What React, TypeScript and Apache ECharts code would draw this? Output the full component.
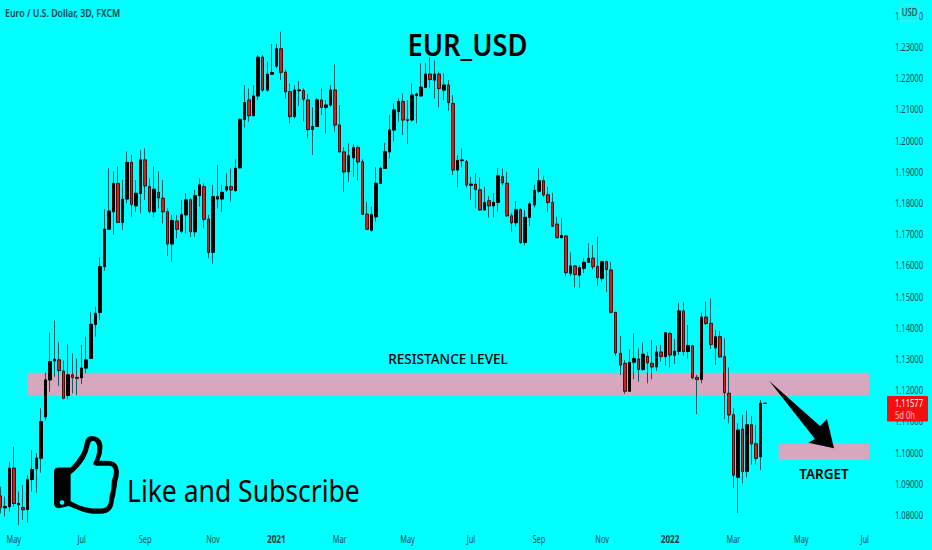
import React, { useEffect, useRef } from "react";
import * as echarts from "echarts";

const opens = [
  1.0861,1.0823,1.0827,1.0950,1.0833,1.0824,1.0818,1.0914,1.0948,1.0982,
  1.1115,1.1233,1.1294,1.1297,1.1261,1.1183,1.1249,1.1241,1.1240,1.1271,
  1.1302,1.1411,1.1449,1.1596,1.1716,1.1772,1.1863,1.1738,1.1813,1.1930,
  1.1791,1.1831,1.1938,1.1852,1.1772,1.1834,1.1815,1.1772,1.1669,1.1742,
  1.1710,1.1762,1.1810,1.1708,1.1824,1.1852,1.1748,1.1642,1.1813,1.1813,
  1.1842,1.1852,1.1840,1.1913,1.2068,1.2130,1.2080,1.2143,1.2267,1.2162,
  1.2213,1.2239,1.2294,1.2219,1.2157,1.2077,1.2160,1.2160,1.2130,1.2036,
  1.2045,1.2130,1.2107,1.2114,1.2162,1.2050,1.1964,1.1900,1.1945,1.1978,
  1.1932,1.1764,1.1713,1.1756,1.1863,1.1911,1.1964,1.2034,1.2093,1.2125,
  1.2068,1.2066,1.2145,1.2143,1.2171,1.2213,1.2194,1.2213,1.2162,1.2178,
  1.2119,1.1906,1.1936,1.1932,1.1857,1.1860,1.1842,1.1778,1.1807,1.1791,
  1.1802,1.1884,1.1863,1.1759,1.1737,1.1778,1.1674,1.1754,1.1794,1.1838,
  1.1871,1.1826,1.1802,1.1732,1.1689,1.1694,1.1575,1.1598,1.1569,1.1591,
  1.1610,1.1623,1.1596,1.1559,1.1612,1.1585,1.1449,1.1318,1.1286,1.1197,
  1.1290,1.1300,1.1267,1.1308,1.1286,1.1275,1.1322,1.1308,1.1382,1.1312,
  1.1325,1.1454,1.1324,1.1342,1.1241,1.1235,1.1434,1.1414,1.1336,1.1371,
  1.1307,1.1190,1.1121,1.0921,1.1075,1.0940,1.1089,1.1028,1.0987,1.1158,
];
const highs = [
  1.0891,1.0859,1.0971,1.1019,1.0875,1.0896,1.0928,1.1008,1.0998,1.1142,
  1.1256,1.1385,1.1423,1.1354,1.1295,1.1347,1.1318,1.1302,1.1345,1.1372,
  1.1450,1.1468,1.1626,1.1780,1.1911,1.1901,1.1917,1.1874,1.1965,1.1954,
  1.1874,1.1970,1.1975,1.1879,1.1917,1.1901,1.1874,1.1783,1.1762,1.1762,
  1.1810,1.1831,1.1815,1.1842,1.1879,1.1863,1.1762,1.1858,1.1922,1.1858,
  1.1895,1.1911,1.1940,1.2071,1.2178,1.2167,1.2178,1.2274,1.2274,1.2253,
  1.2310,1.2310,1.2349,1.2227,1.2183,1.2178,1.2191,1.2167,1.2149,1.2107,
  1.2136,1.2167,1.2130,1.2178,1.2244,1.2114,1.1980,1.1991,1.1988,1.1986,
  1.1940,1.1804,1.1788,1.1914,1.1916,1.1993,1.2082,1.2119,1.2135,1.2151,
  1.2130,1.2183,1.2154,1.2248,1.2248,1.2267,1.2256,1.2221,1.2216,1.2194,
  1.2146,1.1954,1.1975,1.1938,1.1884,1.1895,1.1882,1.1852,1.1823,1.1831,
  1.1911,1.1911,1.1900,1.1767,1.1806,1.1783,1.1778,1.1804,1.1858,1.1911,
  1.1887,1.1852,1.1833,1.1756,1.1751,1.1697,1.1642,1.1601,1.1601,1.1623,
  1.1671,1.1665,1.1692,1.1615,1.1615,1.1610,1.1452,1.1374,1.1297,1.1331,
  1.1382,1.1334,1.1353,1.1323,1.1361,1.1343,1.1345,1.1387,1.1387,1.1364,
  1.1481,1.1482,1.1409,1.1345,1.1249,1.1449,1.1484,1.1494,1.1393,1.1390,
  1.1366,1.1273,1.1142,1.1094,1.1121,1.1134,1.1117,1.1089,1.1169,1.1158,
];
const lows = [
  1.0805,1.0795,1.0811,1.0827,1.0768,1.0784,1.0776,1.0875,1.0872,1.0936,
  1.1102,1.1195,1.1243,1.1214,1.1171,1.1171,1.1190,1.1185,1.1220,1.1254,
  1.1302,1.1372,1.1425,1.1583,1.1714,1.1698,1.1735,1.1714,1.1799,1.1756,
  1.1772,1.1767,1.1810,1.1767,1.1756,1.1783,1.1735,1.1630,1.1612,1.1687,
  1.1703,1.1703,1.1690,1.1692,1.1788,1.1719,1.1623,1.1605,1.1783,1.1772,
  1.1836,1.1804,1.1836,1.1911,1.2042,1.2061,1.2077,1.2130,1.2157,1.2157,
  1.2210,1.2232,1.2194,1.2135,1.2055,1.2071,1.2111,1.2061,1.2007,1.1954,
  1.2045,1.2082,1.2023,1.2109,1.2029,1.1964,1.1836,1.1868,1.1884,1.1872,
  1.1762,1.1713,1.1708,1.1740,1.1863,1.1911,1.1943,1.1997,1.2061,1.2018,
  1.1989,1.2061,1.2055,1.2141,1.2168,1.2168,1.2135,1.2107,1.2130,1.2096,
  1.1890,1.1850,1.1914,1.1850,1.1810,1.1783,1.1775,1.1775,1.1753,1.1754,
  1.1772,1.1858,1.1756,1.1708,1.1724,1.1669,1.1665,1.1726,1.1786,1.1831,
  1.1820,1.1772,1.1724,1.1687,1.1687,1.1564,1.1566,1.1530,1.1527,1.1575,
  1.1609,1.1587,1.1535,1.1548,1.1514,1.1446,1.1310,1.1249,1.1188,1.1195,
  1.1235,1.1227,1.1262,1.1222,1.1235,1.1262,1.1291,1.1278,1.1273,1.1284,
  1.1313,1.1310,1.1302,1.1235,1.1123,1.1222,1.1409,1.1332,1.1281,1.1305,
  1.1107,1.1094,1.0886,1.0807,1.0901,1.0921,1.0962,1.0962,1.0944,1.1158,
];
const closes = [
  1.0825,1.0827,1.0950,1.0837,1.0837,1.0817,1.0914,1.0946,1.0982,1.1099,
  1.1233,1.1292,1.1299,1.1263,1.1174,1.1249,1.1241,1.1238,1.1271,1.1297,
  1.1411,1.1446,1.1596,1.1716,1.1774,1.1863,1.1738,1.1812,1.1930,1.1796,
  1.1831,1.1938,1.1855,1.1774,1.1844,1.1817,1.1772,1.1669,1.1744,1.1716,
  1.1762,1.1810,1.1708,1.1823,1.1858,1.1748,1.1642,1.1820,1.1820,1.1834,
  1.1852,1.1842,1.1911,1.2068,1.2122,1.2080,1.2143,1.2267,1.2162,1.2213,
  1.2218,1.2294,1.2219,1.2157,1.2077,1.2162,1.2162,1.2133,1.2036,1.2045,
  1.2130,1.2107,1.2114,1.2162,1.2050,1.1964,1.1900,1.1951,1.1978,1.1932,
  1.1764,1.1716,1.1762,1.1863,1.1911,1.1964,1.2034,1.2098,1.2125,1.2066,
  1.2065,1.2146,1.2149,1.2171,1.2213,1.2196,1.2213,1.2167,1.2178,1.2122,
  1.1906,1.1936,1.1938,1.1858,1.1860,1.1844,1.1778,1.1801,1.1791,1.1802,
  1.1887,1.1865,1.1759,1.1737,1.1778,1.1674,1.1754,1.1797,1.1840,1.1871,
  1.1826,1.1802,1.1726,1.1689,1.1696,1.1577,1.1598,1.1571,1.1593,1.1610,
  1.1623,1.1596,1.1561,1.1612,1.1587,1.1450,1.1320,1.1281,1.1197,1.1289,
  1.1301,1.1267,1.1315,1.1288,1.1275,1.1322,1.1308,1.1384,1.1313,1.1325,
  1.1454,1.1324,1.1343,1.1240,1.1234,1.1434,1.1414,1.1347,1.1371,1.1307,
  1.1192,1.1121,1.0928,1.1072,1.0940,1.1089,1.1028,1.0982,1.1158,1.1158,
];

// One slot per three-day bar, including the empty future bars on the right.
const barCount = 196;
const tickIndexes = [3, 18, 32, 47, 61, 75, 90, 104, 119, 133, 148, 162, 177, 191];
const tickLabels = ["May", "Jul", "Sep", "Nov", "2021", "Mar", "May", "Jul", "Sep", "Nov", "2022", "Mar", "May", "Jul"];
const yearLabels = ["2021", "2022"];
const priceTicks = [
  1.24, 1.23, 1.22, 1.21, 1.2, 1.19, 1.18, 1.17, 1.16, 1.15, 1.14, 1.13, 1.12, 1.11, 1.1, 1.09, 1.08,
];

const resistanceZone = { from: "6", to: "192", top: 1.1256, bottom: 1.1182 };
const targetZone = { from: "172", to: "192", top: 1.1029, bottom: 1.0976 };

const priceMin = 1.08;
const priceMax = 1.24;
const priceStep = 0.01;

const CYAN = "#00ffff";
const FONT = '"Noto Sans", sans-serif';
const AXIS_INK = "#174a52";

const thumbOuterD =
  "M42 142 Q42 128 56 128 L92 128 Q112 108 125 85 Q132 70 135 50 Q140 33 156 33 Q182 34 187 58 Q190 85 178 107 L212 108 Q236 112 237 140 Q237 158 232 170 Q231 185 228 195 Q227 212 222 225 Q220 262 190 266 Q150 270 115 255 L86 243 L58 250 Q42 250 42 235 Z";
const thumbInnerD =
  "M92 148 Q118 128 135 100 Q145 80 149 60 Q152 47 160 47 Q172 50 172 70 Q172 95 160 114 Q160 122 170 122 L208 122 Q222 124 222 138 Q222 155 216 165 L214 195 Q208 210 208 225 Q205 248 190 250 Q150 254 115 240 L92 229 Z";

function note(text: string, x: number, y: number, scaleX: number, font: string, fill = "#000000", align = "center", z = 10) {
  return {
    type: "text",
    x,
    y,
    z,
    scaleX,
    style: { text, fill, font, textAlign: align, textVerticalAlign: "middle" },
  };
}

export default function App() {
  const ref = useRef<HTMLDivElement>(null);

  useEffect(() => {
    if (!ref.current) return;
    echarts.graphic.registerShape("thumbOuter", echarts.graphic.extendPath(thumbOuterD, {}));
    echarts.graphic.registerShape("thumbInner", echarts.graphic.extendPath(thumbInnerD, {}));
    const chart = echarts.init(ref.current, undefined, { renderer: "svg" });

    const categories = Array.from({ length: barCount }, (_, i) => String(i));
    const wickData = opens.map((o, i) => [o, closes[i], lows[i], highs[i]]);
    const bodyData = opens.map((o, i) => {
      const c = closes[i];
      return [o, c, Math.min(o, c), Math.max(o, c)];
    });

    chart.setOption({
      animation: false,
      backgroundColor: CYAN,
      grid: { left: -2, width: 887, top: 15.8, height: 499.2, containLabel: false, outerBoundsMode: "none" },
      tooltip: { show: false },
      xAxis: {
        type: "category",
        data: categories,
        boundaryGap: true,
        axisLine: { show: false },
        axisTick: { show: false },
        splitLine: { show: false },
        axisLabel: { show: false },
      },
      yAxis: {
        type: "value",
        position: "right",
        min: priceMin,
        max: priceMax,
        interval: priceStep,
        axisLine: { show: false },
        axisTick: { show: false },
        splitLine: { show: false },
        axisLabel: { show: false },
      },
      series: [
        {
          type: "candlestick",
          z: 2,
          clip: false,
          silent: true,
          barWidth: 3,
          data: wickData,
          itemStyle: {
            color: "#0a5c62",
            color0: "#0a5c62",
            borderColor: "#0a5c62",
            borderColor0: "#0a5c62",
            borderWidth: 1,
          },
          markArea: {
            silent: true,
            z: 1,
            itemStyle: { color: "#d6a7be", opacity: 1 },
            data: [
              [
                { xAxis: resistanceZone.from, yAxis: resistanceZone.top },
                { xAxis: resistanceZone.to, yAxis: resistanceZone.bottom },
              ],
              [
                { xAxis: targetZone.from, yAxis: targetZone.top },
                { xAxis: targetZone.to, yAxis: targetZone.bottom },
              ],
            ],
          },
        },
        {
          type: "candlestick",
          z: 3,
          clip: false,
          silent: true,
          barWidth: 3,
          data: bodyData,
          // ECharts: color is for close > open. Rises are black, falls are red.
          itemStyle: {
            color: "#000000",
            color0: "#d0201c",
            borderColor: "#000000",
            borderColor0: "#4a0d0d",
            borderWidth: 1,
          },
        },
      ],
    });

    // Narrow tick labels: placed through the chart's own scales, squeezed as in the reference.
    const xLabels = tickIndexes.map((idx, at) => {
      const t = tickLabels[at];
      const px = chart.convertToPixel({ xAxisIndex: 0 }, String(idx)) as number;
      const isYear = yearLabels.includes(t);
      return note(
        t,
        px,
        539,
        isYear ? 0.74 : 0.67,
        `${isYear ? "700" : "400"} 11px ${FONT}`,
        isYear ? "#123a42" : AXIS_INK,
      );
    });
    const yLabels = priceTicks.map((v) => {
      const py = chart.convertToPixel({ yAxisIndex: 0 }, v) as number;
      return note(v.toFixed(5), 895, py, 0.69, `400 11px ${FONT}`, AXIS_INK, "left");
    });

    chart.setOption({
      graphic: [
        ...xLabels,
        ...yLabels,
        note("Euro / U.S. Dollar, 3D, FXCM", 5, 13, 0.84, `600 10.5px ${FONT}`, "#0e4450", "left"),
        note("EUR_USD", 467.5, 44, 0.88, `600 31px ${FONT}`),
        note("RESISTANCE LEVEL", 448, 358.5, 0.905, `500 15px ${FONT}`),
        note("TARGET", 824, 473, 0.9, `600 15px ${FONT}`),
        note("Like and Subscribe", 127, 490, 0.855, `400 31px ${FONT}`, "#000000", "left"),
        {
          type: "polygon",
          z: 10,
          shape: {
            points: [
              [769.3, 381],
              [820, 426],
              [827, 419],
              [834, 448.3],
              [808.3, 442.7],
              [815, 439],
            ],
          },
          style: { fill: "#000000" },
        },
        { type: "thumbOuter", x: 40, y: 425, scaleX: 1 / 3, scaleY: 1 / 3, z: 10, style: { fill: "#000000" } },
        { type: "thumbInner", x: 40, y: 425, scaleX: 1 / 3, scaleY: 1 / 3, z: 11, style: { fill: CYAN } },
        { type: "circle", z: 11, shape: { cx: 62, cy: 502.5, r: 2.3 }, style: { fill: CYAN } },
        {
          type: "rect",
          z: 12,
          shape: { x: 900, y: 5, width: 19, height: 16, r: 4 },
          style: { fill: "#12f4f4", stroke: "#5ce8e8", lineWidth: 1 },
        },
        note("USD", 909.5, 12.5, 0.78, `500 10px ${FONT}`, AXIS_INK, "center", 13),
        {
          type: "rect",
          z: 12,
          shape: { x: 887, y: 396, width: 41, height: 25.5, r: 1 },
          style: { fill: "#f70d0d" },
        },
        note("1.11577", 895, 403, 0.69, `400 11px ${FONT}`, "#ffffff", "left", 13),
        note("5d 0h", 895, 415, 0.69, `400 11px ${FONT}`, "#ffc2c2", "left", 13),
      ],
    });

    return () => chart.dispose();
  }, []);

  return (
    <div style={{ position: "fixed", left: 0, top: 0, width: 932, height: 550, overflow: "hidden" }}>
      <div ref={ref} style={{ width: 932, height: 550 }} />
    </div>
  );
}
